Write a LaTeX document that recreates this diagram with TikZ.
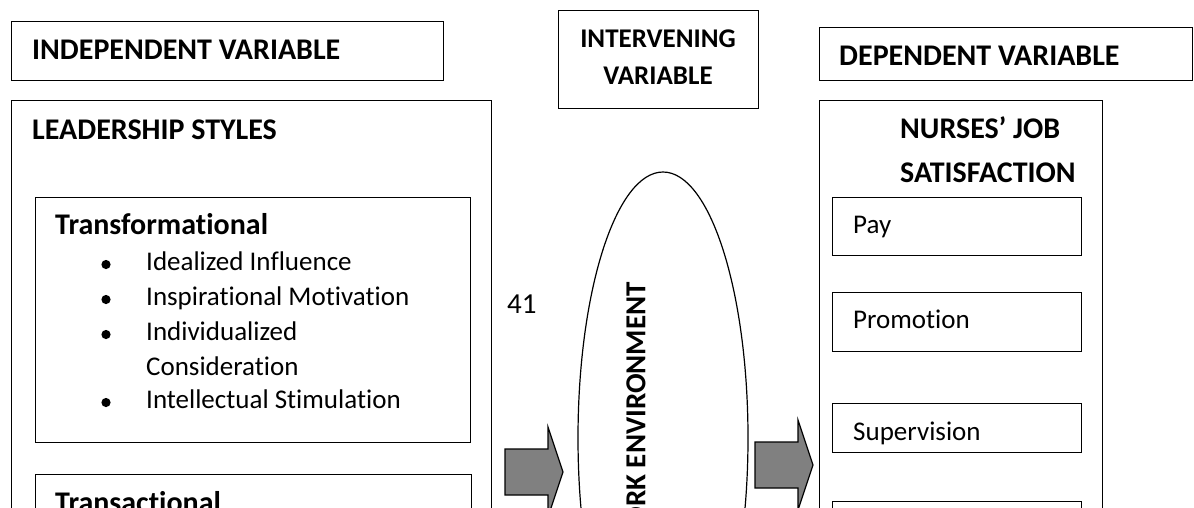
\documentclass[tikz,border=0pt]{standalone}
\usepackage{fontspec}
\setmainfont[Ligatures=NoCommon]{Carlito}
\usepackage{tikz}
\usetikzlibrary{shapes.geometric}
\definecolor{arrowgray}{RGB}{128, 128, 128}

\tikzset{
  varbox/.style={draw, line width=1.3pt, anchor=north west, inner sep=0pt},
  headtext/.style={anchor=base west, inner sep=0pt, font=\bfseries\fontsize{30}{36}\selectfont},
  bodytext/.style={anchor=base west, inner sep=0pt, font=\fontsize{27}{34}\selectfont}
}
% block arrow, #1 = left end of the shaft, #2 = middle height
\newcommand{\blockarrow}[2]{%
  \draw[line width=1.2pt, fill=arrowgray] (#1, #2-23) -- ++(43, 0) -- ++(0, -22)
    -- ++(15, 45) -- ++(-15, 45) -- ++(0, -22) -- ++(-43, 0) -- cycle;}

\begin{document}
\begin{tikzpicture}[x=1pt, y=-1pt]
  \useasboundingbox (0, 0) rectangle (1194, 507);
  \clip (0, 0) rectangle (1194, 507);

  % left column
  \node[varbox, minimum width=432, minimum height=59] (indep) at (11, 21) {};
  \node[headtext] (indeplbl) at (32, 59) {INDEPENDENT VARIABLE};

  \node[varbox, minimum width=480, minimum height=600] (leader) at (11, 100) {};
  \node[headtext] (leaderlbl) at (32, 139) {LEADERSHIP STYLES};

  \node[varbox, minimum width=435, minimum height=245] (transf) at (35, 197) {};
  \node[headtext] (transflbl) at (55, 234) {Transformational};
  \fill (106, 264.5) circle (4.6) (106, 299.5) circle (4.6)
        (106, 334.5) circle (4.6) (106, 402.5) circle (4.6);
  \node[bodytext] (idinf) at (146, 270) {Idealized Influence};
  \node[bodytext] (inspmot) at (146, 305) {Inspirational Motivation};
  \node[bodytext] (indiv) at (146, 340) {Individualized};
  \node[bodytext] (consid) at (146, 375) {Consideration};
  \node[bodytext] (intel) at (146, 408) {Intellectual Stimulation};

  \node[varbox, minimum width=436, minimum height=200] (transa) at (35, 474) {};
  \node[headtext] (transalbl) at (55, 512) {Transactional};

  \node[bodytext, font=\fontsize{29}{34}\selectfont] (pagenum) at (507, 313) {41};

  % middle
  \node[varbox, minimum width=200, minimum height=98] (interv) at (558, 10) {};
  \node[anchor=base, inner sep=0pt, font=\bfseries\fontsize{27}{36}\selectfont]
       (intervlbl) at (658, 47) {INTERVENING};
  \node[anchor=base, inner sep=0pt, font=\bfseries\fontsize{27}{36}\selectfont]
       (intervlbltwo) at (658, 84) {VARIABLE};

  \node[draw, ellipse, line width=1.2pt, minimum width=170, minimum height=532,
        inner sep=0pt] (workenv) at (663, 438) {};
  \node[rotate=90, anchor=east, inner sep=0pt,
        font=\bfseries\fontsize{29}{34}\selectfont] (workenvlbl) at (636, 282)
       {WORK ENVIRONMENT};

  \blockarrow{505}{472}
  \blockarrow{755}{465}

  % right column
  \node[varbox, minimum width=373, minimum height=53] (dep) at (819, 27) {};
  \node[headtext] (deplbl) at (839, 65) {DEPENDENT VARIABLE};

  \node[varbox, minimum width=283, minimum height=600] (nurses) at (819, 100) {};
  \node[headtext] (nurseslbl) at (900, 138) {NURSES’ JOB};
  \node[headtext] (nurseslbltwo) at (900, 182) {SATISFACTION};

  \node[varbox, minimum width=249, minimum height=58] (pay) at (832, 197) {};
  \node[bodytext] (paylbl) at (853, 233) {Pay};
  \node[varbox, minimum width=249, minimum height=59] (promo) at (832, 292) {};
  \node[bodytext] (promolbl) at (853, 328) {Promotion};
  \node[varbox, minimum width=249, minimum height=49] (superv) at (832, 403) {};
  \node[bodytext] (supervlbl) at (853, 440) {Supervision};
  \node[varbox, minimum width=249, minimum height=55] (fourth) at (832, 501) {};
\end{tikzpicture}
\end{document}
